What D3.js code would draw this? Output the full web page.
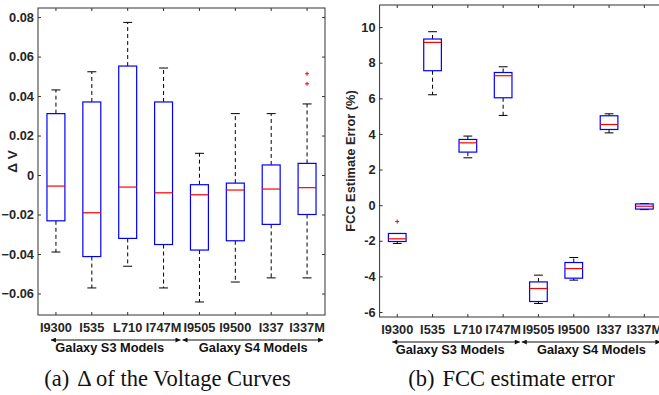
<!DOCTYPE html>
<html>
<head>
<meta charset="utf-8">
<script src="https://cdn.jsdelivr.net/npm/d3@7"></script>
<style>
  body { margin: 0; background: #fff; }
  svg { display: block; }
  .tick text { font-family: "Liberation Sans", Arial, sans-serif; font-weight: bold; font-size: 12.8px; fill: #262626; }
</style>
</head>
<body>
<svg id="canvas" width="659" height="395"></svg>
<script>
const models = ["I9300", "I535", "L710", "I747M", "I9505", "I9500", "I337", "I337M"];

// (a) delta of voltage curves
const dvLow  = [-0.039, -0.0572, -0.0462, -0.0572, -0.0643, -0.0542, -0.0521, -0.0521];
const dvQ1   = [-0.0232, -0.0413, -0.0321, -0.0352, -0.038, -0.0333, -0.025, -0.020];
const dvMed  = [-0.0056, -0.0191, -0.0061, -0.009, -0.010, -0.0076, -0.0071, -0.0064];
const dvQ3   = [0.0311, 0.037, 0.0552, 0.037, -0.0049, -0.0041, 0.0051, 0.0059];
const dvHigh = [0.0431, 0.0523, 0.0773, 0.0542, 0.011, 0.0311, 0.0311, 0.036];
const dvOut  = [[], [], [], [], [], [], [], [0.0513, 0.0462]];
const dvTicks = [-0.06, -0.04, -0.02, 0, 0.02, 0.04, 0.06, 0.08];

// (b) FCC estimate error
const fccLow  = [-2.15, 6.2, 2.66, 5.04, -5.52, -4.21, 4.06, -0.25];
const fccQ1   = [-2.04, 7.55, 2.98, 6.03, -5.41, -4.1, 4.25, -0.22];
const fccMed  = [-1.89, 9.14, 3.5, 7.27, -4.68, -3.56, 4.53, -0.06];
const fccQ3   = [-1.59, 9.33, 3.69, 7.45, -4.31, -3.22, 5.02, 0.07];
const fccHigh = [-1.59, 9.74, 3.88, 7.77, -3.93, -2.94, 5.13, 0.09];
const fccOut  = [[-0.92], [], [], [], [], [], [], []];
const fccTicks = [-6, -4, -2, 0, 2, 4, 6, 8, 10];

const groups = ["Galaxy S3 Models", "Galaxy S4 Models"];

let canvas = d3.select("#canvas");

canvas.append("defs").append("marker")
  .attr("id", "arrow")
  .attr("viewBox", "0 0 10 10")
  .attr("refX", 10).attr("refY", 5)
  .attr("markerWidth", 7).attr("markerHeight", 5)
  .attr("markerUnits", "userSpaceOnUse")
  .attr("orient", "auto-start-reverse")
  .append("path").attr("d", "M0,0 L10,5 L0,10 z").attr("fill", "#111");

let drawPanel = (p) => {
  let g = canvas.append("g");
  let x = d3.scaleBand().domain(models).range([p.left, p.right]).padding(0);
  let y = d3.scaleLinear().domain(p.domain).range([p.bottom, p.top]);
  let cx = (d) => x(d) + x.bandwidth() / 2;
  let bw = x.bandwidth() * 0.5;

  // axes
  g.append("g")
    .attr("transform", `translate(${p.left},0)`)
    .call(d3.axisLeft(y).tickValues(p.ticks).tickFormat(p.fmt)
      .tickSizeInner(-3).tickSizeOuter(0).tickPadding(4))
    .call((s) => s.select(".domain").remove());
  g.append("g")
    .attr("transform", `translate(${p.right},0)`)
    .call(d3.axisRight(y).tickValues(p.ticks).tickFormat("")
      .tickSizeInner(-3).tickSizeOuter(0))
    .call((s) => s.select(".domain").remove());
  g.append("g")
    .attr("transform", `translate(0,${p.bottom})`)
    .call(d3.axisBottom(x).tickSizeInner(-3).tickSizeOuter(0).tickPadding(8))
    .call((s) => s.select(".domain").remove());
  g.append("g")
    .attr("transform", `translate(0,${p.top})`)
    .call(d3.axisTop(x).tickFormat("").tickSizeInner(-3).tickSizeOuter(0))
    .call((s) => s.select(".domain").remove());
  g.selectAll(".tick line").attr("stroke", "#333");
  g.append("rect")
    .attr("x", p.left).attr("y", p.top)
    .attr("width", p.right - p.left).attr("height", p.bottom - p.top)
    .attr("fill", "none").attr("stroke", "#333").attr("stroke-width", 1);

  // boxes
  let box = g.selectAll(".box").data(models).enter().append("g").attr("class", "box");
  box.append("line")
    .attr("x1", cx).attr("x2", cx)
    .attr("y1", (d, i) => y(p.q3[i])).attr("y2", (d, i) => y(p.high[i]))
    .attr("stroke", "#000").attr("stroke-dasharray", "4,3");
  box.append("line")
    .attr("x1", cx).attr("x2", cx)
    .attr("y1", (d, i) => y(p.q1[i])).attr("y2", (d, i) => y(p.low[i]))
    .attr("stroke", "#000").attr("stroke-dasharray", "4,3");
  box.append("line")
    .attr("x1", (d) => cx(d) - bw / 4).attr("x2", (d) => cx(d) + bw / 4)
    .attr("y1", (d, i) => y(p.high[i])).attr("y2", (d, i) => y(p.high[i]))
    .attr("stroke", "#000");
  box.append("line")
    .attr("x1", (d) => cx(d) - bw / 4).attr("x2", (d) => cx(d) + bw / 4)
    .attr("y1", (d, i) => y(p.low[i])).attr("y2", (d, i) => y(p.low[i]))
    .attr("stroke", "#000");
  box.append("rect")
    .attr("x", (d) => cx(d) - bw / 2).attr("width", bw)
    .attr("y", (d, i) => y(p.q3[i]))
    .attr("height", (d, i) => y(p.q1[i]) - y(p.q3[i]))
    .attr("fill", "#fff").attr("stroke", "#0000ff").attr("stroke-width", 1.2);
  box.append("line")
    .attr("x1", (d) => cx(d) - bw / 2).attr("x2", (d) => cx(d) + bw / 2)
    .attr("y1", (d, i) => y(p.med[i])).attr("y2", (d, i) => y(p.med[i]))
    .attr("stroke", "#ff0000").attr("stroke-width", 1.2);
  box.each(function (d, i) {
    d3.select(this).selectAll(".out").data(p.out[i]).enter().append("path")
      .attr("d", (v) => `M${cx(d) - 2},${y(v)}h4M${cx(d)},${y(v) - 2}v4`)
      .attr("stroke", "#ff0000").attr("stroke-width", 1);
  });

  // group arrows
  let ay = p.bottom + 25;
  let mid = (x(models[3]) + x.bandwidth() + x(models[4])) / 2;
  let spans = [[cx(models[0]) - 5, mid - 1], [mid + 1, cx(models[7]) + 16]];
  groups.forEach((name, i) => {
    g.append("line")
      .attr("x1", spans[i][0]).attr("x2", spans[i][1])
      .attr("y1", ay).attr("y2", ay)
      .attr("stroke", "#111").attr("stroke-width", 1)
      .attr("marker-start", "url(#arrow)").attr("marker-end", "url(#arrow)");
    g.append("text")
      .attr("x", (cx(models[i * 4]) + cx(models[i * 4 + 3])) / 2)
      .attr("y", ay + 12)
      .attr("text-anchor", "middle")
      .attr("font-family", "Liberation Sans, Arial, sans-serif")
      .attr("font-weight", "bold").attr("font-size", "12.8px").attr("fill", "#111")
      .text(name);
  });

  // y label
  g.append("text")
    .attr("transform", `translate(${p.ylabelX},${(p.top + p.bottom) / 2}) rotate(-90)`)
    .attr("text-anchor", "middle")
    .attr("font-family", "Liberation Sans, Arial, sans-serif")
    .attr("font-weight", "bold").attr("font-size", p.ylabelSize).attr("fill", "#262626")
    .text(p.ylabel);

  // caption
  let cap = g.append("text")
    .attr("x", p.capX).attr("y", 386)
    .attr("text-anchor", "middle")
    .attr("font-family", "Liberation Serif, Times New Roman, serif")
    .attr("font-size", "22.5px").attr("fill", "#111");
  cap.append("tspan").text(p.capTag);
  cap.append("tspan").attr("dx", 8).text(p.caption);
};

drawPanel({
  left: 38, right: 325, top: 8, bottom: 315,
  domain: [-0.0709, 0.0846], ticks: dvTicks,
  fmt: (d) => d === 0 ? "0" : d3.format(".2f")(d),
  low: dvLow, q1: dvQ1, med: dvMed, q3: dvQ3, high: dvHigh, out: dvOut,
  ylabel: "\u0394 V", ylabelX: 17, ylabelSize: "13.5px",
  capX: 167.5, capTag: "(a)", caption: "\u0394 of the Voltage Curves"
});

drawPanel({
  left: 379.6, right: 662, top: 5, bottom: 317,
  domain: [-6.28, 11.24], ticks: fccTicks,
  fmt: (d) => String(d),
  low: fccLow, q1: fccQ1, med: fccMed, q3: fccQ3, high: fccHigh, out: fccOut,
  ylabel: "FCC Estimate Error (%)", ylabelX: 355, ylabelSize: "12.8px",
  capX: 511.5, capTag: "(b)", caption: "FCC estimate error"
});
</script>
</body>
</html>
